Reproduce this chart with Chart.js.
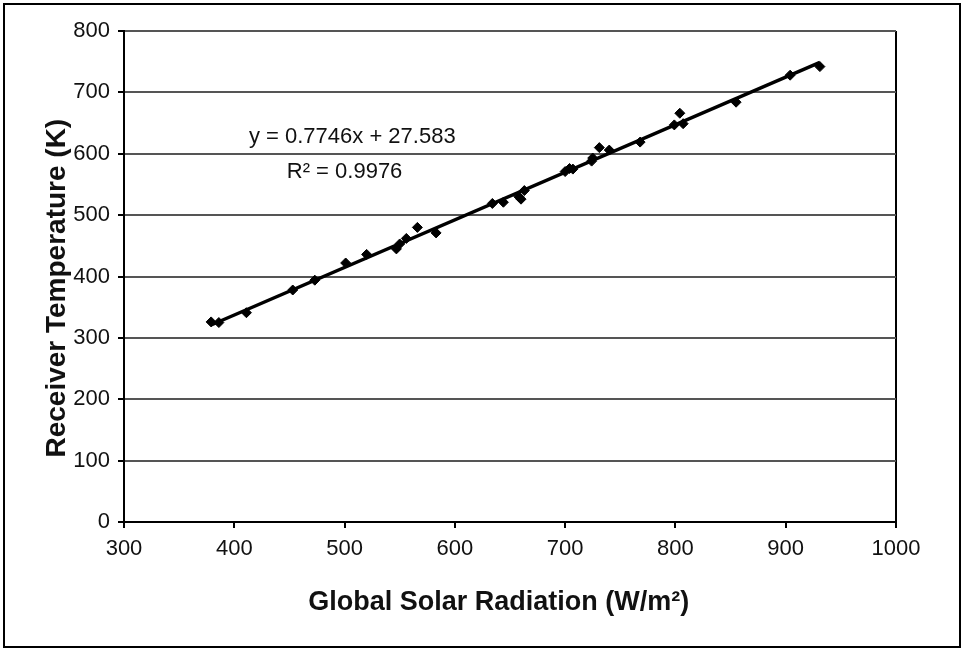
<!DOCTYPE html>
<html>
<head>
<meta charset="utf-8">
<script src="https://cdn.jsdelivr.net/npm/chart.js@4"></script>
<style>
  body {margin: 0; background: #fff;}
  #wrap {position: relative; width: 963px; height: 650px;}
  #frame {position: absolute; left: 3px; top: 3px; width: 954px; height: 641px; border: 2px solid #000; pointer-events: none;}
</style>
</head>
<body>
<div id="wrap">
  <canvas id="chart1canvas" width="963" height="650"></canvas>
  <div id="frame"></div>
</div>
<script>
/* Measured points */
const radiation=[379, 386, 411, 453, 473, 501, 520, 547, 550, 556, 566, 583, 634, 644, 658, 660, 663, 700, 704, 707, 724, 725, 731, 740, 768, 799, 804, 807, 855, 904, 931];
const temperature=[326, 325, 341, 378, 394, 422, 436, 445, 453, 462, 480, 471, 519, 521, 530, 526, 540, 571, 576, 575, 588, 593, 610, 606, 619, 647, 666, 649, 684, 728, 742];

/* Linear trend line end points */
const trendX=[379, 931];
const trendY=[321, 749];

/* Axis ticks */
const xTicks=[300, 400, 500, 600, 700, 800, 900, 1000];
const yTicks=[0, 100, 200, 300, 400, 500, 600, 700, 800];

/* Equation labels (text, x, y in data units) */
const labelText=["y = 0.7746x + 27.583", "R\u00B2 = 0.9976"];
const labelX=[507, 500];
const labelY=[627, 570];

const fontFamily="'Liberation Sans', Arial, sans-serif";

/* Draws the equation text */
const equationPlugin={
  id: 'equation',
  afterDatasetsDraw(chart) {
    const ctx=chart.ctx;
    ctx.save();
    ctx.fillStyle="#111";
    ctx.font="22px "+fontFamily;
    ctx.textAlign="center";
    ctx.textBaseline="middle";
    for (let i=0;i<labelText.length;i++) {
      ctx.fillText(labelText[i],chart.scales.x.getPixelForValue(labelX[i]),chart.scales.y.getPixelForValue(labelY[i]));
    }
    ctx.restore();
  }
};

const data={
  datasets: [
    {
      type: 'line',
      data: trendX.map((x,i)=>({x: x, y: trendY[i]})),
      borderColor: "#000",
      borderWidth: 3.5,
      pointRadius: 0,
      order: 2
    },
    {
      type: 'scatter',
      data: radiation.map((x,i)=>({x: x, y: temperature[i]})),
      pointStyle: 'rectRot',
      pointRadius: 5,
      backgroundColor: "#000",
      borderColor: "#000",
      order: 1
    }
  ]
};

const options={
  responsive: false,
  animation: false,
  events: [],
  layout: {padding: {left: 5, right: 67, top: 31, bottom: 8}},
  plugins: {legend: {display: false}, tooltip: {enabled: false}},
  scales: {
    x: {
      type: 'linear', min: 300, max: 1000,
      afterBuildTicks: scale=>{scale.ticks=xTicks.map(v=>({value: v}));},
      afterFit: scale=>{scale.height=120;},
      border: {color: "#000", width: 2},
      grid: {
        color: ctx=>(ctx.tick && ctx.tick.value==1000)?"#000":"rgba(0,0,0,0)",
        lineWidth: 2,
        tickColor: "#000",
        tickLength: 6
      },
      ticks: {color: "#111", font: {family: fontFamily, size: 22}, padding: 8, maxRotation: 0, callback: value=>String(value)},
      title: {display: true, text: "Global Solar Radiation (W/m\u00B2)   ", color: "#111", font: {family: fontFamily, size: 27, weight: 'bold'}, padding: {top: 0, bottom: 23}}
    },
    y: {
      min: 0, max: 800,
      afterBuildTicks: scale=>{scale.ticks=yTicks.map(v=>({value: v}));},
      afterFit: scale=>{scale.width=119;},
      border: {color: "#000", width: 2},
      grid: {color: "#555", lineWidth: 2, tickColor: "#000", tickLength: 6},
      ticks: {color: "#111", font: {family: fontFamily, size: 22}, padding: 8, callback: value=>String(value)},
      title: {display: true, text: "Receiver Temperature (K)   ", color: "#111", font: {family: fontFamily, size: 28, weight: 'bold'}, padding: {top: 35, bottom: 0}}
    }
  }
};

new Chart(chart1canvas,{type: 'scatter', data: data, options: options, plugins: [equationPlugin]});
</script>
</body>
</html>
